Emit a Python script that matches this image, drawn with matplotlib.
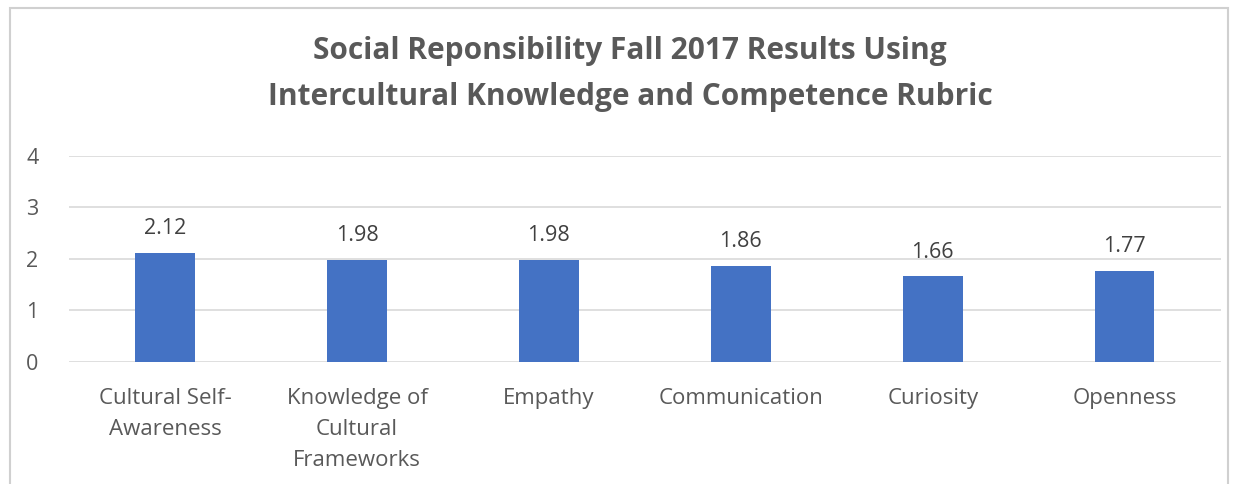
import matplotlib
matplotlib.use("Agg")
import matplotlib.pyplot as plt
from matplotlib.patches import Rectangle

categories = ["Cultural Self-\nAwareness", "Knowledge of\nCultural\nFrameworks", "Empathy",
              "Communication", "Curiosity", "Openness"]
scores = [2.12, 1.98, 1.98, 1.86, 1.66, 1.77]
yticks = [0, 1, 2, 3, 4]

plt.rcParams["font.family"] = ["Open Sans", "DejaVu Sans"]

fig = plt.figure(figsize=(12.33, 4.84), dpi=100)
ax = fig.add_axes([0.056, 0.252, 0.934, 0.426])

x = list(range(len(categories)))
bars = ax.bar(x, scores, width=0.31, color="#4472C4", zorder=3)
for b, v in zip(bars, scores):
    ax.text(b.get_x() + b.get_width() / 2, v + 0.27, f"{v:.2f}", ha="center", va="bottom",
            fontsize=15.5, color="#404040")

ax.set_xlim(-0.5, len(categories) - 0.5)
ax.set_ylim(0, 4)
ax.set_yticks(yticks)
ax.set_xticks(x)
ax.set_xticklabels(categories, linespacing=1.6, va="top")
ax.tick_params(axis="both", length=0, labelsize=15.5, labelcolor="#595959")
ax.tick_params(axis="x", labelsize=16, pad=19)
ax.tick_params(axis="y", pad=22)
ax.grid(axis="y", color="#d9d9d9", lw=1.2, zorder=0)
for s in ax.spines.values():
    s.set_visible(False)

fig.text(0.511, 0.848, "Social Reponsibility Fall 2017 Results Using\nIntercultural Knowledge and Competence Rubric",
         ha="center", va="center", fontsize=21.5, fontweight="bold", color="#595959", linespacing=1.7)

# chart frame
fig.patches.append(Rectangle((10 / 1233, -0.05), 1218 / 1233, 1 - 8 / 484 + 0.05,
                             transform=fig.transFigure, fill=False, ec="#d0d0d0", lw=1.5))

fig.savefig("out.png", dpi=100)
